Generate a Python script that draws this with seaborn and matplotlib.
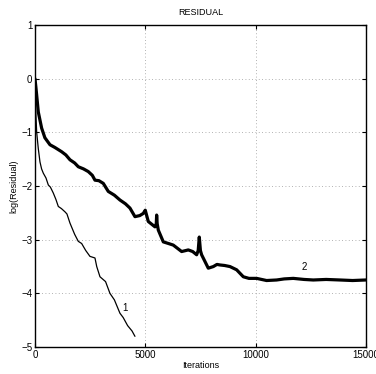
import pandas as pd
import seaborn as sns
import matplotlib.pyplot as plt

sns.set_style('white')
plt.rcParams['font.family'] = ['Liberation Sans Narrow', 'Liberation Sans', 'DejaVu Sans']
plt.rcParams['text.color'] = 'black'
plt.rcParams['axes.labelcolor'] = 'black'
plt.rcParams['xtick.color'] = 'black'
plt.rcParams['ytick.color'] = 'black'

# curve 1 (thin)
iter1 = [0, 30, 76, 150, 227, 300, 378, 500, 605, 700, 831, 950, 1058, 1200,
         1360, 1450, 1587, 1800, 1964, 2116, 2300, 2493, 2720, 2800, 2947, 3200,
         3400, 3600, 3853, 4000, 4200, 4400, 4533]
res1 = [0.0, -0.55, -0.99, -1.3, -1.55, -1.68, -1.76, -1.85, -1.98, -2.02, -2.13,
        -2.25, -2.38, -2.42, -2.48, -2.52, -2.69, -2.9, -3.03, -3.07, -3.2, -3.31,
        -3.34, -3.5, -3.69, -3.78, -4.0, -4.12, -4.37, -4.45, -4.6, -4.7, -4.8]

# curve 2 (thick)
iter2 = [0, 40, 76, 151, 302, 450, 680, 900, 1209, 1400, 1587, 1800, 1964, 2200,
         2417, 2600, 2720, 2900, 3097, 3324, 3600, 3853, 4100, 4306, 4533, 4750,
         4910, 5000, 5137, 5440, 5500, 5516, 5540, 5591, 5818, 6050, 6271, 6649,
         6951, 7150, 7329, 7400, 7449, 7500, 7555, 7700, 7857, 8085, 8250, 8386,
         8600, 8840, 9142, 9445, 9700, 10050, 10500, 10956, 11300, 11710, 12200,
         12616, 13200, 13826, 14400, 15000]
res2 = [0.0, -0.15, -0.30, -0.62, -0.92, -1.1, -1.23, -1.28, -1.36, -1.42, -1.51,
        -1.57, -1.64, -1.68, -1.73, -1.8, -1.89, -1.9, -1.95, -2.10, -2.17, -2.26,
        -2.33, -2.41, -2.57, -2.55, -2.51, -2.45, -2.66, -2.76, -2.7, -2.54, -2.7,
        -2.82, -3.04, -3.07, -3.10, -3.22, -3.19, -3.22, -3.28, -3.2, -2.95, -3.2,
        -3.28, -3.4, -3.53, -3.50, -3.46, -3.47, -3.48, -3.50, -3.56, -3.69, -3.72,
        -3.72, -3.76, -3.75, -3.73, -3.72, -3.74, -3.75, -3.74, -3.75, -3.76,
        -3.75]

d1 = pd.DataFrame({'Iterations': iter1, 'log(Residual)': res1})
d2 = pd.DataFrame({'Iterations': iter2, 'log(Residual)': res2})

fig = plt.figure(figsize=(3.76, 3.74), dpi=100)
ax = fig.add_axes([0.093, 0.072, 0.88, 0.861])
sns.lineplot(x='Iterations', y='log(Residual)', data=d1, color='black',
             linewidth=0.9, sort=False, ax=ax)
sns.lineplot(x='Iterations', y='log(Residual)', data=d2, color='black',
             linewidth=2.3, sort=False, ax=ax)

ax.set_xlim(0, 15000)
ax.set_ylim(-5, 1)
ax.set_xticks([0, 5000, 10000, 15000])
ax.set_yticks([-5, -4, -3, -2, -1, 0, 1])
ax.grid(True, linestyle=(0, (1, 3)), color='#999999', linewidth=0.6)
for s in ax.spines.values():
    s.set_color('black')
    s.set_linewidth(1.0)
ax.tick_params(direction='in', length=3, labelsize=7, width=0.8, pad=2,
               left=True, bottom=True, top=True, right=True)
ax.set_xlabel('Iterations', fontsize=6.5, labelpad=1)
ax.set_ylabel('log(Residual)', fontsize=6.5, labelpad=2)
ax.set_title('RESIDUAL', fontsize=6.5, pad=7)
ax.text(4080, -4.27, '1', fontsize=7, ha='center', va='center')
ax.text(12195, -3.51, '2', fontsize=7, ha='center', va='center')

plt.savefig('out.png', dpi=100)
